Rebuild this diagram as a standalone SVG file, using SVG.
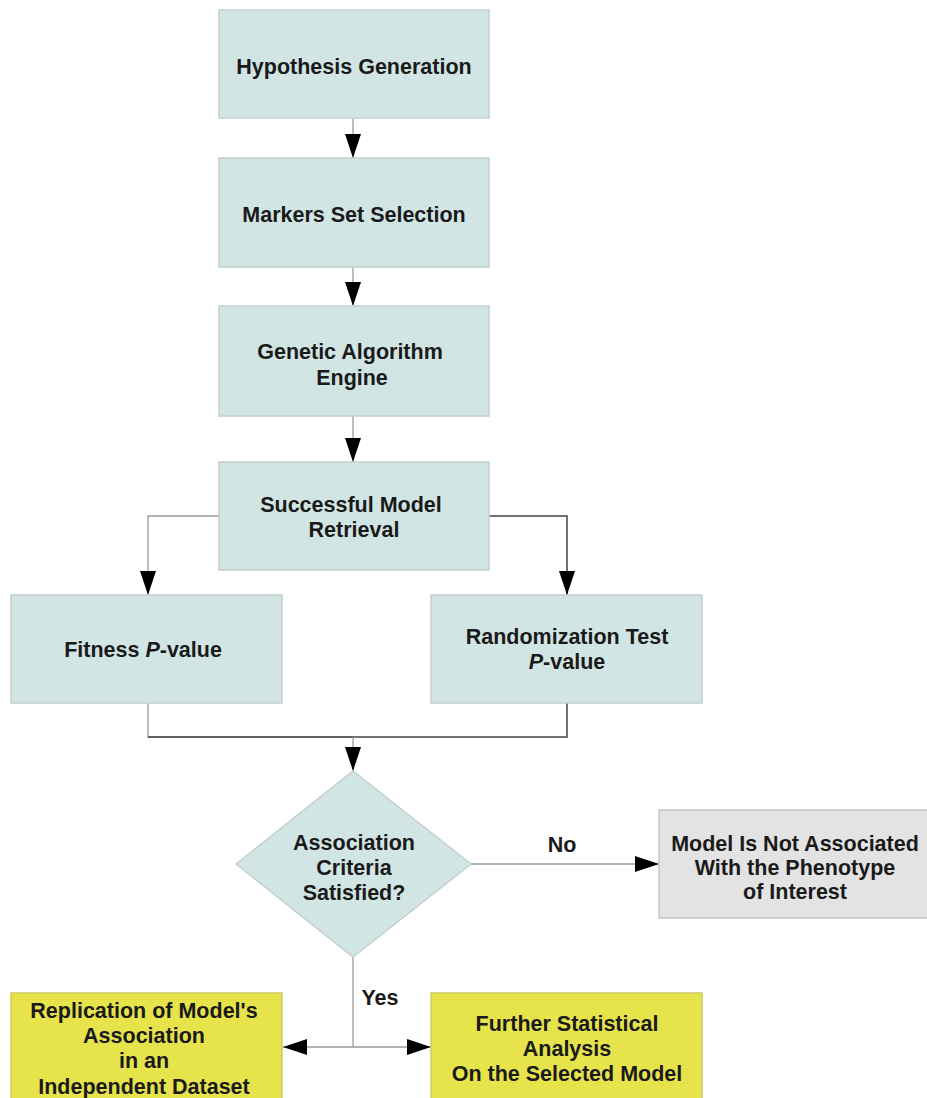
<svg xmlns="http://www.w3.org/2000/svg" width="927" height="1098" viewBox="0 0 927 1098">
<defs>
<marker id="arr" markerUnits="userSpaceOnUse" markerWidth="25" markerHeight="16" refX="24" refY="8" orient="auto">
<path d="M0,0 L24,8 L0,16 Z" fill="#000"/>
</marker>
<style>
.box{fill:#d1e6e4;stroke:#c3cfcf;stroke-width:1.5}
.grey{fill:#e3e3e3;stroke:#c8c8c8;stroke-width:1.5}
.yel{fill:#e6e34b;stroke:#d0cd60;stroke-width:1.5}
.t{font-family:"Liberation Sans",Arial,sans-serif;font-weight:bold;font-size:21.5px;fill:#1a1a1a;text-anchor:middle}
.c{fill:none;stroke:#9a9a9a;stroke-width:1.3}
.d{fill:none;stroke:#444;stroke-width:1.5}
</style>
</defs>
<rect width="927" height="1098" fill="#fff"/>
<g id="connectors">
<line class="c" x1="353" y1="118" x2="353" y2="158" marker-end="url(#arr)"/>
<line class="c" x1="353" y1="267" x2="353" y2="306" marker-end="url(#arr)"/>
<line class="c" x1="353" y1="416" x2="353" y2="462" marker-end="url(#arr)"/>
<polyline class="c" points="219,516 148,516 148,595" marker-end="url(#arr)"/>
<polyline class="d" points="489,516 567,516 567,595" marker-end="url(#arr)"/>
<polyline class="c" points="148,703 148,737 353,737"/>
<polyline class="d" points="567,703 567,737 148,737"/>
<line class="c" x1="353" y1="737" x2="353" y2="771" marker-end="url(#arr)"/>
<line class="c" x1="471" y1="864" x2="659" y2="864" marker-end="url(#arr)"/>
<line class="c" x1="353" y1="957" x2="353" y2="1047"/>
<line class="c" x1="353" y1="1047" x2="283" y2="1047" marker-end="url(#arr)"/>
<line class="c" x1="353" y1="1047" x2="431" y2="1047" marker-end="url(#arr)"/>
<text class="t" x="562" y="852">No</text>
<text class="t" x="380" y="1005">Yes</text>
</g>
<g id="hypothesis">
<rect class="box" x="219" y="10" width="270" height="108"/>
<text class="t" x="354" y="74">Hypothesis Generation</text>
</g>
<g id="markers">
<rect class="box" x="219" y="158" width="270" height="109"/>
<text class="t" x="354" y="222">Markers Set Selection</text>
</g>
<g id="ga">
<rect class="box" x="219" y="306" width="270" height="110"/>
<text class="t" x="350" y="359">Genetic Algorithm</text>
<text class="t" x="352" y="385">Engine</text>
</g>
<g id="retrieval">
<rect class="box" x="219" y="462" width="270" height="108"/>
<text class="t" x="351" y="512">Successful Model</text>
<text class="t" x="354" y="537">Retrieval</text>
</g>
<g id="fitness">
<rect class="box" x="11" y="595" width="271" height="108"/>
<text class="t" x="143" y="657">Fitness <tspan font-style="italic">P</tspan>-value</text>
</g>
<g id="randomization">
<rect class="box" x="431" y="595" width="271" height="108"/>
<text class="t" x="567" y="644">Randomization Test</text>
<text class="t" x="567" y="669"><tspan font-style="italic">P</tspan>-value</text>
</g>
<g id="criteria">
<polygon class="box" points="353,771 471,864 353,957 236,864"/>
<text class="t" x="354" y="850">Association</text>
<text class="t" x="354" y="875">Criteria</text>
<text class="t" x="354" y="900">Satisfied?</text>
</g>
<g id="notassociated">
<rect class="grey" x="659" y="810" width="270" height="108"/>
<text class="t" x="795" y="851">Model Is Not Associated</text>
<text class="t" x="795" y="875">With the Phenotype</text>
<text class="t" x="795" y="899">of Interest</text>
</g>
<g id="replication">
<rect class="yel" x="11" y="993" width="271" height="110"/>
<text class="t" x="144" y="1018">Replication of Model's</text>
<text class="t" x="144" y="1043">Association</text>
<text class="t" x="144" y="1068">in an</text>
<text class="t" x="144" y="1094">Independent Dataset</text>
</g>
<g id="further">
<rect class="yel" x="431" y="993" width="271" height="110"/>
<text class="t" x="567" y="1031">Further Statistical</text>
<text class="t" x="567" y="1056">Analysis</text>
<text class="t" x="567" y="1081">On the Selected Model</text>
</g>
</svg>
